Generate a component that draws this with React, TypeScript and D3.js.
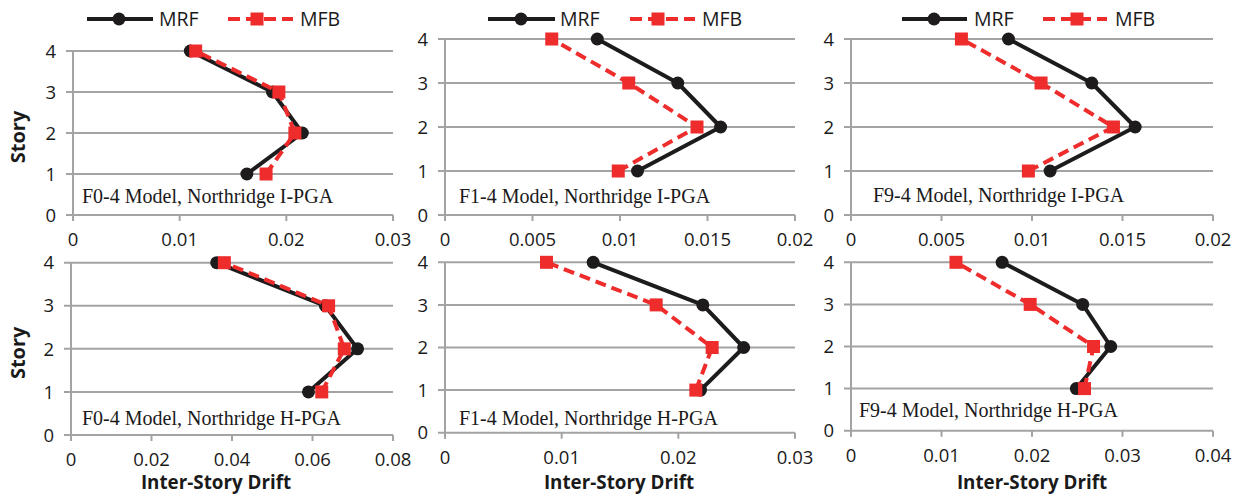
import React from "react";
import * as d3 from "d3";

// ---- data ----
const stories = [1, 2, 3, 4];
const storyTicks = [0, 1, 2, 3, 4];
const seriesNames = ["MRF", "MFB"];
const panelTitles = [
  "F0-4 Model, Northridge I-PGA",
  "F1-4 Model, Northridge I-PGA",
  "F9-4 Model, Northridge I-PGA",
  "F0-4 Model, Northridge H-PGA",
  "F1-4 Model, Northridge H-PGA",
  "F9-4 Model, Northridge H-PGA",
];
const xTicks1 = [0, 0.01, 0.02, 0.03];
const xTicks2 = [0, 0.005, 0.01, 0.015, 0.02];
const xTicks3 = [0, 0.005, 0.01, 0.015, 0.02];
const xTicks4 = [0, 0.02, 0.04, 0.06, 0.08];
const xTicks5 = [0, 0.01, 0.02, 0.03];
const xTicks6 = [0, 0.01, 0.02, 0.03, 0.04];

const mrf1 = [0.0163, 0.0215, 0.0187, 0.011];
const mfb1 = [0.0181, 0.0208, 0.0193, 0.0115];
const mrf2 = [0.011, 0.01575, 0.0133, 0.0087];
const mfb2 = [0.0099, 0.0144, 0.0105, 0.0061];
const mrf3 = [0.011, 0.0157, 0.0133, 0.0087];
const mfb3 = [0.0098, 0.0145, 0.0105, 0.0061];
const mrf4 = [0.059, 0.0712, 0.0632, 0.0362];
const mfb4 = [0.0623, 0.0679, 0.064, 0.0381];
const mrf5 = [0.0219, 0.0256, 0.0221, 0.0127];
const mfb5 = [0.0215, 0.0229, 0.0181, 0.0087];
const mrf6 = [0.0249, 0.0287, 0.0256, 0.0167];
const mfb6 = [0.0258, 0.0268, 0.0198, 0.0116];

const xTicksAll = [xTicks1, xTicks2, xTicks3, xTicks4, xTicks5, xTicks6];
const mrfAll = [mrf1, mrf2, mrf3, mrf4, mrf5, mrf6];
const mfbAll = [mfb1, mfb2, mfb3, mfb4, mfb5, mfb6];

// ---- layout ----
const W = 1238;
const H = 497;
const layout = [
  { x0: 73, x1: 393, y0: 215, y4: 51, tx: 82, ty: 203, legend: [87, 119, 153, 159, 228, 257, 293, 300], ylab: true, xlab: false, xlabX: 0 },
  { x0: 445, x1: 795, y0: 215, y4: 39, tx: 459, ty: 203, legend: [488, 521, 555, 560, 630, 658, 695, 702], ylab: false, xlab: false, xlabX: 0 },
  { x0: 851, x1: 1213, y0: 215, y4: 39, tx: 873, ty: 202, legend: [902, 934, 967, 974, 1043, 1077, 1107, 1115], ylab: false, xlab: false, xlabX: 0 },
  { x0: 71, x1: 393, y0: 435, y4: 262.7, tx: 82, ty: 425, legend: null, ylab: true, xlab: true, xlabX: 216 },
  { x0: 445, x1: 795, y0: 432.7, y4: 262.3, tx: 459, ty: 425, legend: null, ylab: false, xlab: true, xlabX: 619 },
  { x0: 851, x1: 1213, y0: 430.7, y4: 262.3, tx: 859, ty: 417, legend: null, ylab: false, xlab: true, xlabX: 1032 },
];

const BLACK = "#1d1b1c";
const RED = "#ee2c2c";
const GRID = "#a3a3a3";
const TEXT = "#1a1a1a";
const SANS = "'Open Sans', 'Liberation Sans', sans-serif";
const SERIF = "'Liberation Serif', 'DejaVu Serif', serif";

const fmt = (v: number) => (v === 0 ? "0" : String(+v.toFixed(4)));

function Panel({ i }: { i: number }) {
  const L = layout[i];
  const ticks = xTicksAll[i];
  const x = d3.scaleLinear().domain([0, ticks[ticks.length - 1]]).range([L.x0, L.x1]);
  const y = d3.scaleLinear().domain([0, 4]).range([L.y0, L.y4]);
  const line = d3
    .line<number>()
    .x((d) => x(d))
    .y((_, k) => y(stories[k]));
  const mrf = mrfAll[i];
  const mfb = mfbAll[i];
  const ms = 13;
  return (
    <g>
      {storyTicks.map((s) => (
        <line key={"g" + s} x1={L.x0 - 7} x2={L.x1} y1={y(s)} y2={y(s)} stroke={GRID} strokeWidth={2} />
      ))}
      <line x1={L.x0} x2={L.x0} y1={y(4)} y2={L.y0 + 6} stroke={GRID} strokeWidth={2} />
      {ticks.map((t) => (
        <line key={"t" + t} x1={x(t)} x2={x(t)} y1={L.y0} y2={L.y0 + 6} stroke={GRID} strokeWidth={2} />
      ))}
      {storyTicks.map((s) => (
        <text key={"yl" + s} x={L.x0 - 17} y={y(s)} dy="0.36em" textAnchor="end" fontFamily={SANS} fontSize={18.5} fill={TEXT}>
          {s}
        </text>
      ))}
      {ticks.map((t) => (
        <text key={"xl" + t} x={x(t)} y={L.y0 + 31} textAnchor="middle" fontFamily={SANS} fontSize={18.5} fill={TEXT}>
          {fmt(t)}
        </text>
      ))}
      <text x={L.tx} y={L.ty} fontFamily={SERIF} fontSize={20} fill={TEXT}>
        {panelTitles[i]}
      </text>
      <path d={line(mrf) || ""} fill="none" stroke={BLACK} strokeWidth={4} strokeLinejoin="round" />
      {mrf.map((v, k) => (
        <circle key={"c" + k} cx={x(v)} cy={y(stories[k])} r={6.5} fill={BLACK} />
      ))}
      <path d={line(mfb) || ""} fill="none" stroke={RED} strokeWidth={4} strokeDasharray="11 6" />
      {mfb.map((v, k) => (
        <rect key={"s" + k} x={x(v) - ms / 2} y={y(stories[k]) - ms / 2} width={ms} height={ms} fill={RED} />
      ))}
      {L.legend && (
        <g>
          <line x1={L.legend[0]} x2={L.legend[2]} y1={19} y2={19} stroke={BLACK} strokeWidth={4} />
          <circle cx={L.legend[1]} cy={19} r={6.5} fill={BLACK} />
          <text x={L.legend[3]} y={19} dy="0.36em" fontFamily={SANS} fontSize={19.5} fill={TEXT}>
            {seriesNames[0]}
          </text>
          <line x1={L.legend[4]} x2={L.legend[6]} y1={19} y2={19} stroke={RED} strokeWidth={4} strokeDasharray="12 6" />
          <rect x={L.legend[5] - ms / 2} y={19 - ms / 2} width={ms} height={ms} fill={RED} />
          <text x={L.legend[7]} y={19} dy="0.36em" fontFamily={SANS} fontSize={19.5} fill={TEXT}>
            {seriesNames[1]}
          </text>
        </g>
      )}
      {L.ylab && (
        <text
          transform={`translate(${18},${(L.y0 + L.y4) / 2 + 4}) rotate(-90)`}
          dy="0.36em"
          textAnchor="middle"
          fontFamily={SANS}
          fontWeight="bold"
          fontSize={20}
          fill={TEXT}
        >
          Story
        </text>
      )}
      {L.xlab && (
        <text x={L.xlabX} y={489} textAnchor="middle" fontFamily={SANS} fontWeight="bold" fontSize={18.8} fill={TEXT}>
          Inter-Story Drift
        </text>
      )}
    </g>
  );
}

export default function App() {
  return (
    <svg
      width={W}
      height={H}
      viewBox={`0 0 ${W} ${H}`}
      style={{ position: "absolute", left: 0, top: 0, background: "#fff" }}
    >
      <rect width={W} height={H} fill="#fff" />
      {layout.map((_, i) => (
        <Panel key={i} i={i} />
      ))}
    </svg>
  );
}
